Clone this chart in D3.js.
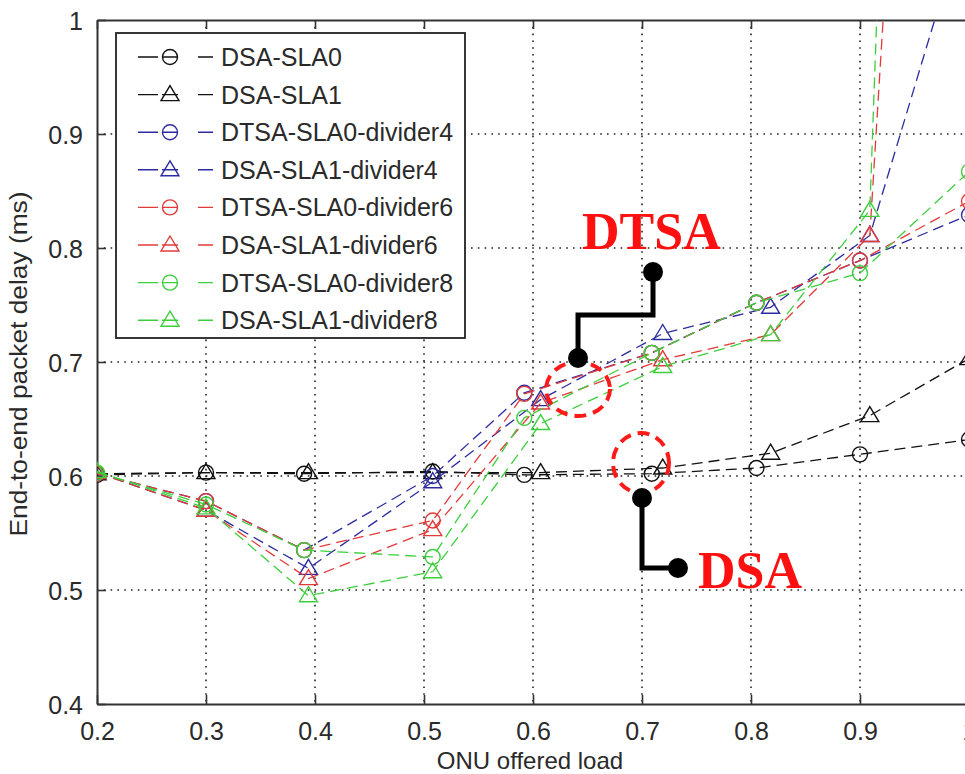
<!DOCTYPE html>
<html>
<head>
<meta charset="utf-8">
<script src="https://cdn.jsdelivr.net/npm/d3@7"></script>
<style>
  body { margin: 0; background: #fff; }
  svg { display: block; }
  text { font-family: "Liberation Sans", Arial, sans-serif; fill: #2a2a2a; }
</style>
</head>
<body>
<svg id="chart" width="965" height="774"></svg>
<script>
// offered load (x) of each measured point, circles and triangles sit slightly apart
var loadCircle = [0.2, 0.3, 0.39, 0.508, 0.592, 0.709, 0.805, 0.9, 1.0];
var loadTriangle = [0.2, 0.3, 0.394, 0.508, 0.607, 0.719, 0.818, 0.909, 1.0];

// end-to-end packet delay (ms)
var dsaSla0 = [0.601, 0.603, 0.602, 0.604, 0.601, 0.602, 0.607, 0.619, 0.632];
var dsaSla1 = [0.602, 0.603, 0.603, 0.603, 0.603, 0.607, 0.620, 0.653, 0.703];
var dtsaSla0Div4 = [0.602, 0.578, 0.535, 0.600, 0.673, 0.708, 0.752, 0.789, 0.829];
var dsaSla1Div4 = [0.603, 0.570, 0.519, 0.595, 0.667, 0.725, 0.748, 0.811, 1.10];
var dtsaSla0Div6 = [0.602, 0.578, 0.535, 0.561, 0.672, 0.708, 0.752, 0.789, 0.841];
var dsaSla1Div6 = [0.603, 0.570, 0.510, 0.553, 0.664, 0.702, 0.724, 0.811, 2.22];
var dtsaSla0Div8 = [0.603, 0.575, 0.535, 0.529, 0.651, 0.708, 0.752, 0.778, 0.867];
var dsaSla1Div8 = [0.604, 0.572, 0.495, 0.516, 0.646, 0.696, 0.724, 0.833, 3.25];

var seriesNames = ["DSA-SLA0", "DSA-SLA1", "DTSA-SLA0-divider4", "DSA-SLA1-divider4",
  "DTSA-SLA0-divider6", "DSA-SLA1-divider6", "DTSA-SLA0-divider8", "DSA-SLA1-divider8"];
var seriesValues = [dsaSla0, dsaSla1, dtsaSla0Div4, dsaSla1Div4, dtsaSla0Div6, dsaSla1Div6, dtsaSla0Div8, dsaSla1Div8];
var seriesColors = ["#111111", "#111111", "#2c2ca0", "#2c2ca0", "#e23a3a", "#e23a3a", "#3ccf3c", "#3ccf3c"];

var xTicks = [0.2, 0.3, 0.4, 0.5, 0.6, 0.7, 0.8, 0.9, 1.0];
var yTicks = [0.4, 0.5, 0.6, 0.7, 0.8, 0.9, 1.0];

// annotation anchors in data units: [load, delay]
var dtsaEllipse = [0.6413, 0.6763];
var dtsaConnector = [[0.6413, 0.7035], [0.6413, 0.7412], [0.7101, 0.7412], [0.7101, 0.7789]];
var dtsaLabel = [0.645, 0.799];
var dsaEllipse = [0.6991, 0.6114];
var dsaConnector = [[0.70, 0.5807], [0.70, 0.5193], [0.733, 0.5193]];
var dsaLabel = [0.7514, 0.5018];

var svg = d3.select("#chart");
var plotLeft = 97, plotRight = 969, plotTop = 20, plotBottom = 704;

var x = d3.scaleLinear().domain([0.2, 1.0]).range([plotLeft, plotRight]);
var y = d3.scaleLinear().domain([0.4, 1.0]).range([plotBottom, plotTop]);

svg.append("defs").append("clipPath").attr("id", "plot-clip")
  .append("rect").attr("x", plotLeft).attr("y", plotTop)
  .attr("width", plotRight - plotLeft).attr("height", plotBottom - plotTop);

// dotted grid
var grid = svg.append("g").attr("class", "grid")
  .attr("stroke", "#222").attr("stroke-width", 1.6).attr("stroke-dasharray", "1.6,5.2");
grid.selectAll(".gx").data(xTicks.slice(1, -1)).enter().append("line")
  .attr("x1", d => x(d)).attr("x2", d => x(d)).attr("y1", plotTop).attr("y2", plotBottom);
grid.selectAll(".gy").data(yTicks.slice(1, -1)).enter().append("line")
  .attr("x1", plotLeft).attr("x2", plotRight).attr("y1", d => y(d)).attr("y2", d => y(d));

// axes with inward ticks
var fmt = d => d === 1 ? "1" : d3.format(".1f")(d);
var xAxis = svg.append("g").attr("transform", "translate(0," + plotBottom + ")")
  .call(d3.axisBottom(x).tickValues(xTicks).tickFormat(fmt).tickSizeInner(-9).tickSizeOuter(0).tickPadding(18));
var xTop = svg.append("g").attr("transform", "translate(0," + plotTop + ")")
  .call(d3.axisTop(x).tickValues(xTicks).tickFormat("").tickSizeInner(-9).tickSizeOuter(0));
var yAxis = svg.append("g").attr("transform", "translate(" + plotLeft + ",0)")
  .call(d3.axisLeft(y).tickValues(yTicks).tickFormat(fmt).tickSizeInner(-9).tickSizeOuter(0).tickPadding(14));

[xAxis, xTop, yAxis].forEach(function (g) {
  g.select(".domain").attr("stroke", "#333").attr("stroke-width", 2);
  g.selectAll(".tick line").attr("stroke", "#333").attr("stroke-width", 1.6);
  g.selectAll("text").attr("font-size", 25).attr("fill", "#2a2a2a")
    .style("font-family", "'Liberation Sans', Arial, sans-serif");
});
yAxis.selectAll(".tick text").attr("dy", "0.36em");

// axis titles
svg.append("text").attr("x", 530).attr("y", 769).attr("text-anchor", "middle")
  .attr("font-size", 24).text("ONU offered load");
svg.append("text").attr("transform", "translate(27,364) rotate(-90)")
  .attr("text-anchor", "middle").attr("font-size", 23)
  .attr("textLength", 345).attr("lengthAdjust", "spacingAndGlyphs")
  .text("End-to-end packet delay (ms)");

// marker shapes
function drawMarker(g, isCircle, color) {
  if (isCircle) {
    g.append("circle").attr("r", 7.5).attr("fill", "none")
      .attr("stroke", color).attr("stroke-width", 1.4);
  } else {
    g.append("path").attr("d", "M0,-9 L9,6 L-9,6 Z").attr("fill", "none")
      .attr("stroke", color).attr("stroke-width", 1.4);
  }
}

// series
var plot = svg.append("g").attr("clip-path", "url(#plot-clip)");
var line = d3.line().x(d => x(d[0])).y(d => y(d[1]));

seriesValues.forEach(function (vals, i) {
  var loads = i % 2 === 0 ? loadCircle : loadTriangle;
  var pts = vals.map((v, j) => [loads[j], v]);
  var g = plot.append("g");
  g.append("path").datum(pts).attr("d", line).attr("fill", "none")
    .attr("stroke", seriesColors[i]).attr("stroke-width", 1.3)
    .attr("stroke-dasharray", "11,6");
  g.selectAll(".m").data(pts.filter(p => p[1] <= 1)).enter().append("g")
    .attr("transform", d => "translate(" + x(d[0]) + "," + y(d[1]) + ")")
    .each(function () { drawMarker(d3.select(this), i % 2 === 0, seriesColors[i]); });
});

// legend
var legend = svg.append("g").attr("class", "legend");
legend.append("rect").attr("x", 116).attr("y", 33).attr("width", 349).attr("height", 305)
  .attr("fill", "#fff").attr("stroke", "#222").attr("stroke-width", 1.8);
seriesNames.forEach(function (name, i) {
  var ly = 57 + i * 37.6;
  var row = legend.append("g").attr("transform", "translate(0," + ly + ")");
  row.append("line").attr("x1", 138).attr("x2", 213).attr("y1", 0).attr("y2", 0)
    .attr("stroke", seriesColors[i]).attr("stroke-width", 1.4)
    .attr("stroke-dasharray", "20,4,16,20,15");
  var m = row.append("g").attr("transform", "translate(170,0)");
  drawMarker(m, i % 2 === 0, seriesColors[i]);
  row.append("text").attr("x", 221).attr("y", 0).attr("dy", "0.36em")
    .attr("font-size", 25).attr("fill", "#1a1a1a").text(name);
});

// annotations
function annotate(ellipse, rx, ry, conn, label, text) {
  var a = svg.append("g");
  a.append("ellipse").attr("cx", x(ellipse[0])).attr("cy", y(ellipse[1]))
    .attr("rx", rx).attr("ry", ry).attr("fill", "none")
    .attr("stroke", "#ff1a1a").attr("stroke-width", 4).attr("stroke-dasharray", "12,7");
  a.append("path").datum(conn).attr("d", line).attr("fill", "none")
    .attr("stroke", "#000").attr("stroke-width", 5);
  a.selectAll(".dot").data([conn[0], conn[conn.length - 1]]).enter().append("circle")
    .attr("cx", d => x(d[0])).attr("cy", d => y(d[1])).attr("r", 10).attr("fill", "#000");
  a.append("text").attr("x", x(label[0])).attr("y", y(label[1]))
    .style("font-family", "'Liberation Serif', 'Times New Roman', serif")
    .attr("font-weight", "bold").attr("font-size", 52).style("fill", "#ff1010").text(text);
}
annotate(dtsaEllipse, 32, 27, dtsaConnector, dtsaLabel, "DTSA");
annotate(dsaEllipse, 28, 30, dsaConnector, dsaLabel, "DSA");
</script>
</body>
</html>
